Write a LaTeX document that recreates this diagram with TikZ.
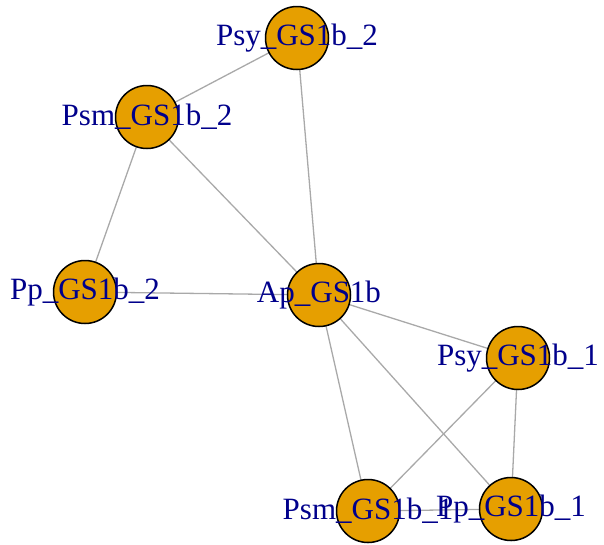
\documentclass[tikz,border=0pt]{standalone}
\usepackage{fontspec}
\setmainfont{Liberation Serif}
\definecolor{vfill}{HTML}{E69F00}
\definecolor{lblue}{HTML}{00008B}
\definecolor{egray}{HTML}{A9A9A9}
\begin{document}
\begin{tikzpicture}[x=1pt,y=-1pt,
  vert/.style={circle,draw=black,fill=vfill,line width=1.5pt,minimum size=63pt,inner sep=0pt},
  lab/.style={text=lblue,font=\fontsize{31}{31}\selectfont,inner sep=0pt,anchor=center},
  edge/.style={draw=egray,line width=1.3pt}]
\useasboundingbox (0,0) rectangle (604,544);
\coordinate (cPsy2) at (297,38);
\coordinate (cPsm2) at (147,117);
\coordinate (cPp2) at (85,292);
\coordinate (cAp) at (319,295);
\coordinate (cPsy1) at (518,358);
\coordinate (cPsm1) at (368,511);
\coordinate (cPp1) at (511,509);
\draw[edge] (cPsy2) -- (cPsm2);
\draw[edge] (cPsy2) -- (cAp);
\draw[edge] (cPsm2) -- (cAp);
\draw[edge] (cPsm2) -- (cPp2);
\draw[edge] (cPp2) -- (cAp);
\draw[edge] (cAp) -- (cPsy1);
\draw[edge] (cAp) -- (cPsm1);
\draw[edge] (cAp) -- (cPp1);
\draw[edge] (cPsy1) -- (cPsm1);
\draw[edge] (cPsy1) -- (cPp1);
\draw[edge] (cPsm1) -- (cPp1);
\node[vert] (Psy2) at (cPsy2) {};
\node[vert] (Psm2) at (cPsm2) {};
\node[vert] (Pp2) at (cPp2) {};
\node[vert] (Ap) at (cAp) {};
\node[vert] (Psy1) at (cPsy1) {};
\node[vert] (Psm1) at (cPsm1) {};
\node[vert] (Pp1) at (cPp1) {};
\node[lab] (lPsy2) at (cPsy2) {Psy\_GS1b\_2};
\node[lab] (lPsm2) at (cPsm2) {Psm\_GS1b\_2};
\node[lab] (lPp2) at (cPp2) {Pp\_GS1b\_2};
\node[lab] (lAp) at (cAp) {Ap\_GS1b};
\node[lab] (lPsy1) at (cPsy1) {Psy\_GS1b\_1};
\node[lab] (lPsm1) at (cPsm1) {Psm\_GS1b\_1};
\node[lab] (lPp1) at (cPp1) {Pp\_GS1b\_1};
\end{tikzpicture}
\end{document}
